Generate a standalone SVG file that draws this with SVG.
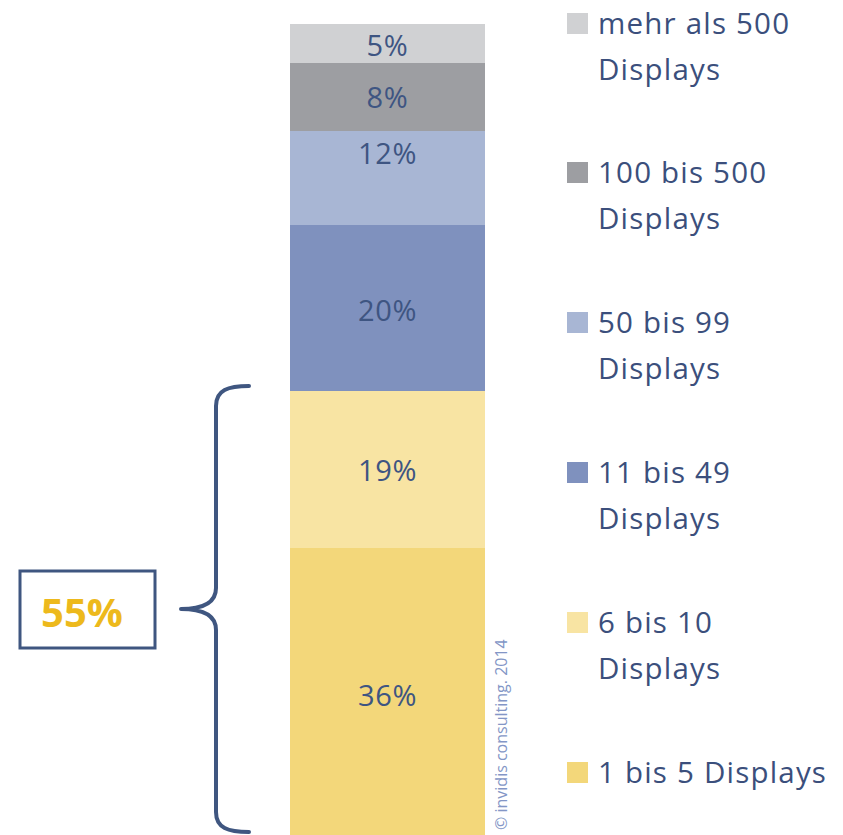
<svg xmlns="http://www.w3.org/2000/svg" width="843" height="835" viewBox="0 0 843 835">
  <style>
    .lbl { font-family: "Open Sans", "Noto Sans", "Liberation Sans", sans-serif; font-size: 29px; letter-spacing: 0.6px; fill: #3E5582; text-anchor: middle; }
    .leg { font-family: "Open Sans", "Noto Sans", "Liberation Sans", sans-serif; font-size: 29.5px; letter-spacing: 1.2px; fill: #3B4F7C; }
    .brace { fill: none; stroke: #3F5680; stroke-width: 4; stroke-linecap: round; stroke-linejoin: round; }
  </style>
  <rect width="843" height="835" fill="#FFFFFF"/>

  <!-- stacked bar -->
  <g id="bar">
    <g id="seg-500plus"><rect x="290" y="24" width="195" height="39" fill="#D0D1D3"/><text class="lbl" x="387.5" y="56">5%</text></g>
    <g id="seg-100-500"><rect x="290" y="63" width="195" height="68" fill="#9D9EA2"/><text class="lbl" x="387.5" y="108">8%</text></g>
    <g id="seg-50-99"><rect x="290" y="131" width="195" height="94" fill="#A8B6D4"/><text class="lbl" x="387.5" y="164">12%</text></g>
    <g id="seg-11-49"><rect x="290" y="225" width="195" height="166" fill="#7F91BE"/><text class="lbl" x="387.5" y="321">20%</text></g>
    <g id="seg-6-10"><rect x="290" y="391" width="195" height="157" fill="#F8E4A3"/><text class="lbl" x="387.5" y="481">19%</text></g>
    <g id="seg-1-5"><rect x="290" y="548" width="195" height="287" fill="#F3D77A"/><text class="lbl" x="387.5" y="706">36%</text></g>
  </g>

  <!-- copyright -->
  <text x="507" y="830" transform="rotate(-90 507 830)" font-family="'Open Sans', 'Noto Sans', sans-serif" font-size="16" fill="#8396C6">© invidis consulting. 2014</text>

  <!-- legend -->
  <g id="legend">
    <g id="leg-500plus"><rect x="567" y="13" width="21" height="21" fill="#D0D1D3"/><text class="leg" x="598" y="34">mehr als 500</text><text class="leg" x="598" y="80">Displays</text></g>
    <g id="leg-100-500"><rect x="567" y="162" width="21" height="21" fill="#9D9EA2"/><text class="leg" x="598" y="183">100 bis 500</text><text class="leg" x="598" y="229">Displays</text></g>
    <g id="leg-50-99"><rect x="567" y="312" width="21" height="21" fill="#A8B6D4"/><text class="leg" x="598" y="333">50 bis 99</text><text class="leg" x="598" y="379">Displays</text></g>
    <g id="leg-11-49"><rect x="567" y="462" width="21" height="21" fill="#7F91BE"/><text class="leg" x="598" y="483">11 bis 49</text><text class="leg" x="598" y="529">Displays</text></g>
    <g id="leg-6-10"><rect x="567" y="612" width="21" height="21" fill="#F8E4A3"/><text class="leg" x="598" y="633">6 bis 10</text><text class="leg" x="598" y="679">Displays</text></g>
    <g id="leg-1-5"><rect x="567" y="762" width="21" height="21" fill="#F3D77A"/><text class="leg" x="598" y="783">1 bis 5 Displays</text></g>
  </g>

  <!-- curly brace over the two smallest groups -->
  <g id="connectors">
    <path class="brace" d="M249 386 C228 386 216 390 216 406 L216 588 C216 602 205 609 181 609 C205 609 216 616 216 630 L216 812 C216 828 228 832 249 832"/>
  </g>

  <!-- total box -->
  <g id="total">
    <rect x="20" y="571" width="135" height="77" fill="#FFFFFF" stroke="#3F5680" stroke-width="3"/>
    <text x="82" y="627" font-family="'Open Sans', 'Noto Sans', sans-serif" font-weight="bold" font-size="40" fill="#EDB91C" text-anchor="middle">55%</text>
  </g>
</svg>
